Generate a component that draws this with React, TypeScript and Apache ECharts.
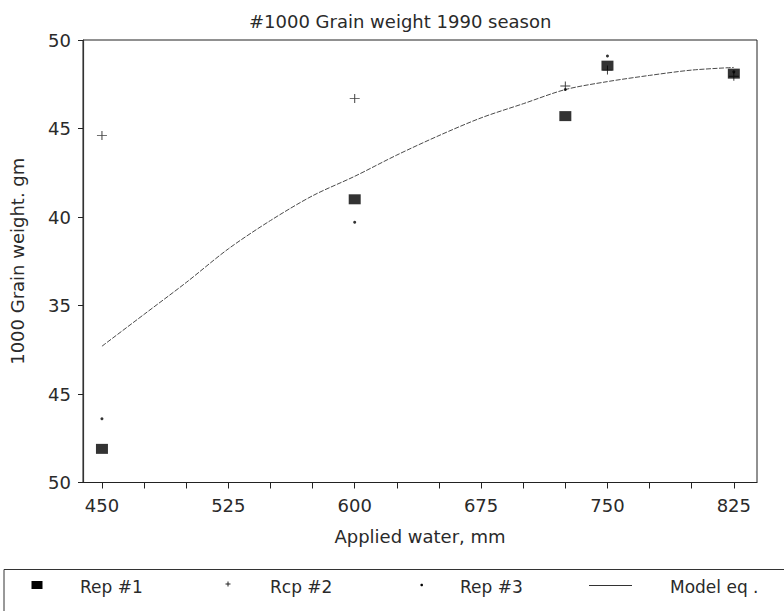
import React, { useEffect, useRef } from "react";
import * as echarts from "echarts";

const chartTitle = "#1000 Grain weight 1990 season";
const xAxisName = "Applied water, mm";
const yAxisName = "1000 Grain weight. gm";

const xTickValues = [450, 475, 500, 525, 550, 575, 600, 625, 650, 675, 700, 725, 750, 775, 800, 825];
const xLabelValues = [450, 525, 600, 675, 750, 825];
const yTickValues = [25, 30, 35, 40, 45, 50];
const yTickLabels = ["50", "45", "35", "40", "45", "50"];

const rep1 = [[450, 26.9], [600, 41.0], [725, 45.7], [750, 48.55], [825, 48.1]];
const rep2 = [[450, 44.6], [600, 46.7], [725, 47.4], [750, 48.3], [825, 47.95]];
const rep3 = [[450, 28.6], [600, 39.7], [725, 47.2], [750, 49.1], [825, 48.2]];
const modelX = [450, 475, 500, 525, 550, 575, 600, 625, 650, 675, 700, 725, 750, 775, 800, 825];
const modelY = [32.7, 34.5, 36.3, 38.2, 39.8, 41.2, 42.3, 43.5, 44.6, 45.6, 46.4, 47.2, 47.65, 48.0, 48.3, 48.45];

const legendLabels = ["Rep #1", "Rcp #2", "Rep #3", "Model eq ."];

const FONT = "DejaVu Sans";
const TXT = "#2a2a2a";
const PLUS = "path://M0,4.5H10V5.5H0Z M4.5,0H5.5V10H4.5Z";

export default function App() {
  const ref = useRef<HTMLDivElement>(null);
  useEffect(() => {
    if (!ref.current) return;
    const chart = echarts.init(ref.current, undefined, { renderer: "svg" });
    const legendY = 586;
    const txtStyle = (x: number, text: string) => ({
      type: "text",
      x,
      y: legendY + 1,
      style: { text, fill: TXT, font: `17px "${FONT}"`, textVerticalAlign: "middle", textAlign: "left" },
    });
    chart.setOption({
      animation: false,
      backgroundColor: "#ffffff",
      title: {
        text: chartTitle,
        left: 244,
        top: 7,
        textStyle: { fontFamily: FONT, fontSize: 18, fontWeight: "normal", color: TXT },
      },
      grid: {
        left: 82,
        right: 27,
        top: 40,
        bottom: 128.5,
        show: true,
        borderColor: "#222",
        borderWidth: 1,
        backgroundColor: "transparent",
      },
      xAxis: {
        type: "value",
        min: 438.75,
        max: 838.75,
        name: xAxisName,
        nameLocation: "middle",
        nameGap: 45,
        nameTextStyle: { fontFamily: FONT, fontSize: 18, color: TXT },
        axisLine: { show: true, lineStyle: { color: "#222", width: 1 } },
        axisTick: { show: true, inside: false, length: 6, customValues: xTickValues, lineStyle: { color: "#222" } },
        axisLabel: { customValues: xLabelValues, margin: 14, fontFamily: FONT, fontSize: 18, color: TXT },
        splitLine: { show: false },
      },
      yAxis: {
        type: "value",
        min: 25,
        max: 50,
        interval: 5,
        name: yAxisName,
        nameLocation: "middle",
        nameGap: 57,
        nameRotate: 90,
        nameTextStyle: { fontFamily: FONT, fontSize: 18, color: TXT },
        axisLine: { show: true, lineStyle: { color: "#333", width: 1.2 } },
        axisTick: { show: true, inside: false, length: 5, lineStyle: { color: "#222" } },
        axisLabel: {
          margin: 12,
          fontFamily: FONT,
          fontSize: 18,
          color: TXT,
          formatter: (v: number) => {
            const i = yTickValues.indexOf(v);
            return i >= 0 ? yTickLabels[i] : "";
          },
        },
        splitLine: { show: false },
      },
      series: [
        {
          name: "Model eq",
          type: "line",
          data: modelX.map((x, i) => [x, modelY[i]]),
          smooth: 0.3,
          showSymbol: false,
          lineStyle: { color: "#4a4a4a", width: 1, type: [5, 1.5] },
          z: 1,
        },
        {
          name: "Rep #1",
          type: "scatter",
          data: rep1,
          symbol: "rect",
          symbolSize: [12, 10],
          itemStyle: { color: "#000" },
          z: 3,
        },
        {
          name: "Rep #2",
          type: "scatter",
          data: rep2,
          symbol: PLUS,
          symbolSize: [10, 9],
          itemStyle: { color: "#111" },
          z: 2,
        },
        {
          name: "Rep #3",
          type: "scatter",
          data: rep3,
          symbol: "circle",
          symbolSize: 3,
          itemStyle: { color: "#000" },
          z: 4,
        },
      ],
      graphic: [
        {
          type: "polyline",
          shape: { points: [[4, 611], [4, 569.5], [784, 569.5]] },
          style: { stroke: "#333", lineWidth: 1, fill: null },
        },
        { type: "rect", shape: { x: 31.5, y: legendY - 5, width: 11, height: 8 }, style: { fill: "#000" } },
        txtStyle(80, legendLabels[0]),
        {
          type: "group",
          children: [
            { type: "line", shape: { x1: 225.5, y1: 584, x2: 230.5, y2: 584 }, style: { stroke: "#222", lineWidth: 1 } },
            { type: "line", shape: { x1: 228, y1: 581.5, x2: 228, y2: 586.5 }, style: { stroke: "#222", lineWidth: 1 } },
          ],
        },
        txtStyle(270, legendLabels[1]),
        { type: "circle", shape: { cx: 421.7, cy: 585, r: 1.3 }, style: { fill: "#000" } },
        txtStyle(460, legendLabels[2]),
        { type: "line", shape: { x1: 589, y1: 585.5, x2: 632, y2: 585.5 }, style: { stroke: "#333", lineWidth: 1 } },
        txtStyle(670, legendLabels[3]),
      ],
    });
    return () => chart.dispose();
  }, []);
  return <div ref={ref} style={{ width: 784, height: 611, position: "absolute", left: 0, top: 0 }} />;
}
